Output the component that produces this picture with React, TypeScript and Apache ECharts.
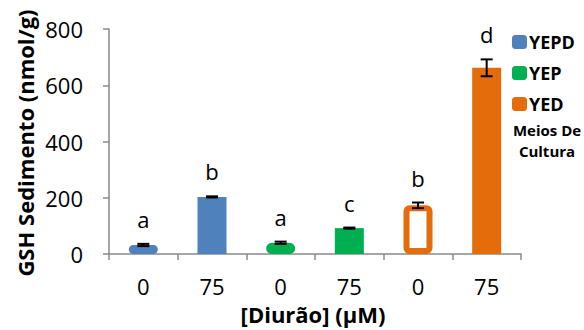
import React, { useEffect, useRef } from 'react';
import * as echarts from 'echarts';

const categories = ['0', '75', '0', '75', '0', '75'];
const mediaNames = ['YEPD', 'YEP', 'YED'];
const mediaColors = ['#4F81BD', '#00B050', '#E46C0A'];
const mediumOfBar = [0, 0, 1, 1, 2, 2];
const gshValues = [32, 203, 40, 92, 173, 662];
const gshErrors = [4, 2, 4, 2, 10, 30];
const letters = ['a', 'b', 'a', 'c', 'b', 'd'];
const yMin = 0;
const yMax = 800;
const yInterval = 200;

const FONT = '"Open Sans", "Noto Sans", sans-serif';

export default function App() {
  const ref = useRef<HTMLDivElement>(null);
  useEffect(() => {
    if (!ref.current) return;
    const chart = echarts.init(ref.current, undefined, { renderer: 'svg' });
    const barSeries = mediaNames.map((name, m) => ({
      name,
      type: 'bar',
      barWidth: 29,
      barGap: '-100%',
      itemStyle: { color: mediaColors[m] },
      data: gshValues.map((v, i) => {
        if (mediumOfBar[i] !== m) return '-';
        if (categories[i] === '0') {
          return {
            value: v,
            itemStyle: { color: '#ffffff', borderColor: mediaColors[m], borderWidth: 6, borderRadius: 3 },
          };
        }
        return { value: v };
      }),
    }));
    const option: any = {
      animation: false,
      textStyle: { fontFamily: FONT },
      grid: { left: 109, right: 63, top: 29, bottom: 76 },
      legend: {
        data: mediaNames,
        orient: 'vertical',
        left: 507,
        top: 28,
        itemWidth: 15,
        itemHeight: 14,
        itemGap: 13,
        icon: 'roundRect',
        textStyle: { fontFamily: FONT, fontWeight: 'bold', fontSize: 18, color: '#000', padding: [0, 0, 0, -3] },
      },
      xAxis: {
        type: 'category',
        data: categories,
        axisLine: { lineStyle: { color: '#8a8a8a', width: 1.5 } },
        axisTick: { show: true, length: 6, lineStyle: { color: '#8a8a8a', width: 1.5 } },
        axisLabel: { fontFamily: FONT, fontSize: 22, color: '#000', margin: 21 },
      },
      yAxis: {
        type: 'value',
        min: yMin,
        max: yMax,
        interval: yInterval,
        splitLine: { show: false },
        axisLine: { show: true, lineStyle: { color: '#8a8a8a', width: 1.5 } },
        axisTick: { show: true, length: 6, lineStyle: { color: '#8a8a8a', width: 1.5 } },
        axisLabel: { fontFamily: FONT, fontSize: 22, color: '#000', margin: 26 },
      },
      graphic: [
        {
          type: 'text',
          x: 25,
          y: 143,
          rotation: Math.PI / 2,
          style: {
            text: 'GSH Sedimento (nmol/g)',
            font: `bold 22px ${FONT}`,
            fill: '#000',
            align: 'center',
            verticalAlign: 'middle',
          },
        },
        {
          type: 'text',
          x: 313,
          y: 314,
          style: {
            text: '[Diurão] (µM)',
            font: `bold 22px ${FONT}`,
            fill: '#000',
            align: 'center',
            verticalAlign: 'middle',
          },
        },
        {
          type: 'text',
          x: 547,
          y: 140,
          style: {
            text: 'Meios De\nCultura',
            font: `bold 15px ${FONT}`,
            lineHeight: 21,
            fill: '#000',
            align: 'center',
            verticalAlign: 'middle',
          },
        },
      ],
      series: [
        ...barSeries,
        {
          type: 'custom',
          z: 5,
          encode: { x: 0, y: 1 },
          data: gshValues.map((v, i) => [i, v, gshErrors[i]]),
          renderItem: (params: any, api: any) => {
            const idx = api.value(0);
            const v = api.value(1);
            const e = api.value(2);
            const top = api.coord([idx, v + e]);
            const bot = api.coord([idx, v - e]);
            const x = top[0];
            const half = 6;
            const stroke = { stroke: '#000', lineWidth: 2 };
            return {
              type: 'group',
              children: [
                { type: 'line', shape: { x1: x, y1: top[1], x2: x, y2: bot[1] }, style: stroke },
                { type: 'line', shape: { x1: x - half, y1: top[1], x2: x + half, y2: top[1] }, style: stroke },
                { type: 'line', shape: { x1: x - half, y1: bot[1], x2: x + half, y2: bot[1] }, style: stroke },
                {
                  type: 'text',
                  x,
                  y: top[1] - 25,
                  style: {
                    text: letters[params.dataIndex],
                    font: `22px ${FONT}`,
                    fill: '#000',
                    align: 'center',
                    verticalAlign: 'middle',
                  },
                },
              ],
            };
          },
        },
      ],
    };
    chart.setOption(option);
    return () => chart.dispose();
  }, []);
  return (
    <div
      ref={ref}
      style={{ width: 584, height: 330, position: 'absolute', left: 0, top: 0 }}
    />
  );
}
